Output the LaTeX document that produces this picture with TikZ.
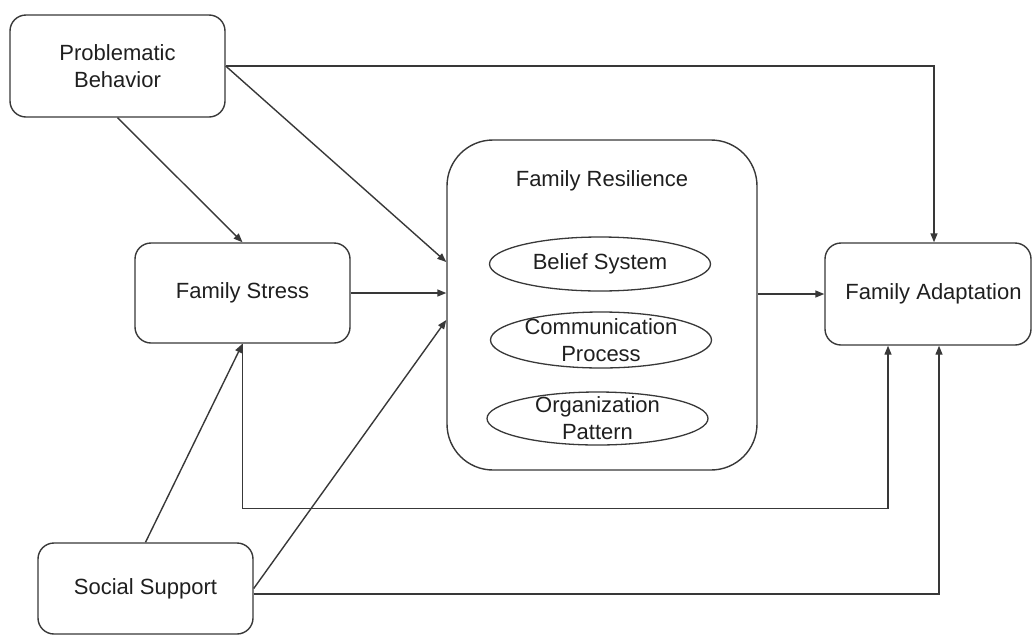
\documentclass[tikz,border=0pt]{standalone}
\usepackage{fontspec}
\setmainfont{Liberation Sans}
\usetikzlibrary{arrows.meta,shapes.geometric,calc}
\definecolor{linegray}{gray}{0.22}
\definecolor{textgray}{gray}{0.12}
\begin{document}
\begin{tikzpicture}[x=1pt,y=-1pt,
  lbl/.style={font=\fontsize{22}{27}\selectfont, text=textgray, align=center, inner sep=0pt},
  box/.style={lbl, draw=linegray, line width=1.4pt, rounded corners=16pt},
  bigbox/.style={draw=linegray, line width=1.4pt, rounded corners=46pt, inner sep=0pt},
  oval/.style={ellipse, draw=linegray, line width=1.3pt, inner sep=0pt,
               minimum width=221pt, minimum height=54pt},
  conn/.style={draw=linegray, line width=1.4pt, -{Triangle[length=9pt,width=7pt]}},
  plain/.style={draw=linegray, line width=1.4pt}
]
\useasboundingbox (0,0) rectangle (1032,635);

% boxes
\node[box, minimum width=215pt, minimum height=102pt] (PB) at (117.5,66) {Problematic\\Behavior};
\node[box, minimum width=215pt, minimum height=100pt] (FS) at (242.5,293) {Family Stress};
\node[box, minimum width=215pt, minimum height=91pt] (SS) at (145.5,588.5) {Social Support};
\node[box, minimum width=206pt, minimum height=102pt] (FA) at (928,294) {\hspace*{11pt}Family Adaptation};
\node[bigbox, minimum width=310pt, minimum height=330pt] (FR) at (602,305) {};
\node[lbl] (FRt) at (602,181) {Family Resilience};

% components of resilience
\node[oval] (BS) at (600,264) {};
\node[lbl] (BSt) at (BS) {Belief System};
\node[oval, minimum height=56pt] (CP) at (601,340) {};
\node[lbl] (CPt) at (CP) {Communication\\Process};
\node[oval, minimum height=53pt] (OP) at (597.5,418.5) {};
\node[lbl] (OPt) at (OP) {Organization\\Pattern};

% anchor points along the sides
\coordinate (r1) at ($(FR.west)+(0,-43)$);
\coordinate (r3) at ($(FR.west)+(0,15)$);
\coordinate (fa1) at ($(FA.north)+(6,0)$);
\coordinate (fa2) at ($(FA.south)+(-40,0)$);
\coordinate (fa3) at ($(FA.south)+(11,0)$);
\coordinate (k1) at ($(fa2)+(0,163)$);
\coordinate (ss1) at ($(SS.east)+(0,5.5)$);
\coordinate (fr1) at ($(FR.east)+(0,-11)$);

% connectors
\draw[conn] (PB.south) -- (FS.north);
\draw[conn] (PB.east) -- (r1);
\draw[conn] (PB.east) -| (fa1);
\draw[conn] (FS.east) -- (FS.east -| FR.west);
\draw[conn] (SS.north) -- (FS.south);
\draw[conn] (SS.east) -- (r3);
\draw[conn] (FS.south) |- (k1) -- (fa2);
\draw[conn] (ss1) -| (fa3);
\draw[conn] (fr1) -- (fr1 -| FA.west);
\end{tikzpicture}
\end{document}
